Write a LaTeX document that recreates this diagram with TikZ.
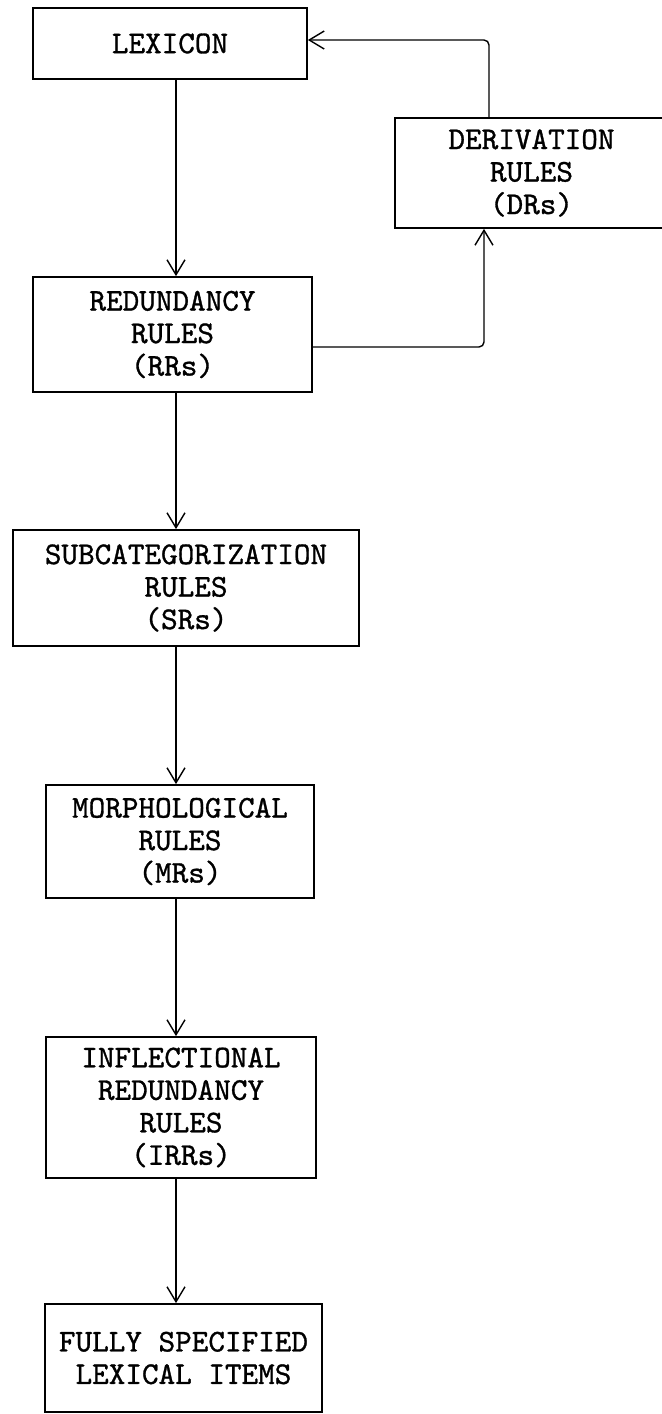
\documentclass[tikz,border=0pt]{standalone}
\usepackage{fontspec}
\newfontfamily\boxfont{lmmono10-regular.otf}[FakeBold=1]
\usetikzlibrary{arrows.meta}

\begin{document}
\begin{tikzpicture}[x=0.02cm,y=-0.02cm,>={Straight Barb[length=0.3cm,width=0.36cm]},
    rulebox/.style={draw,line width=1pt,align=center,inner sep=0pt,
        font=\fontsize{18}{18.5}\selectfont\boxfont}]
    \useasboundingbox (0,0) rectangle (662,1414);

    % Boxes
    \node[rulebox,minimum width=5.48cm,minimum height=1.42cm] (lexicon) at (170,43.5) {LEXICON};
    \node[rulebox,minimum width=5.46cm,minimum height=2.2cm]  (drs)     at (531.5,173) {DERIVATION\\RULES\\(DRs)};
    \node[rulebox,minimum width=5.58cm,minimum height=2.3cm]  (rrs)     at (172.5,334.5) {REDUNDANCY\\RULES\\(RRs)};
    \node[rulebox,minimum width=6.92cm,minimum height=2.32cm] (srs)     at (186,588) {SUBCATEGORIZATION\\RULES\\(SRs)};
    \node[rulebox,minimum width=5.36cm,minimum height=2.26cm] (mrs)     at (180,841.5) {MORPHOLOGICAL\\RULES\\(MRs)};
    \node[rulebox,minimum width=5.4cm,minimum height=2.82cm]  (irrs)    at (181,1107.5) {INFLECTIONAL\\REDUNDANCY\\RULES\\(IRRs)};
    \node[rulebox,minimum width=5.54cm,minimum height=2.16cm] (items)   at (183.5,1358) {FULLY SPECIFIED\\LEXICAL ITEMS};

    % Guide lines
    \coordinate (spine) at (176,0);
    \coordinate (upX)   at (484,0);
    \coordinate (backX) at (489,0);

    % Main line
    \draw[->,thick] (lexicon.south -| spine) -- (rrs.north -| spine);
    \draw[->,thick] (rrs.south -| spine)     -- (srs.north -| spine);
    \draw[->,thick] (srs.south -| spine)     -- (mrs.north -| spine);
    \draw[->,thick] (mrs.south -| spine)     -- (irrs.north -| spine);
    \draw[->,thick] (irrs.south -| spine)    -- (items.north -| spine);

    % Derivation loop
    \draw[->,thick,rounded corners=0.1cm] ([yshift=-0.25cm]rrs.east) -| (drs.south -| upX);
    \draw[->,thick,rounded corners=0.1cm] (drs.north -| backX) |- ([yshift=0.07cm]lexicon.east);
\end{tikzpicture}
\end{document}
